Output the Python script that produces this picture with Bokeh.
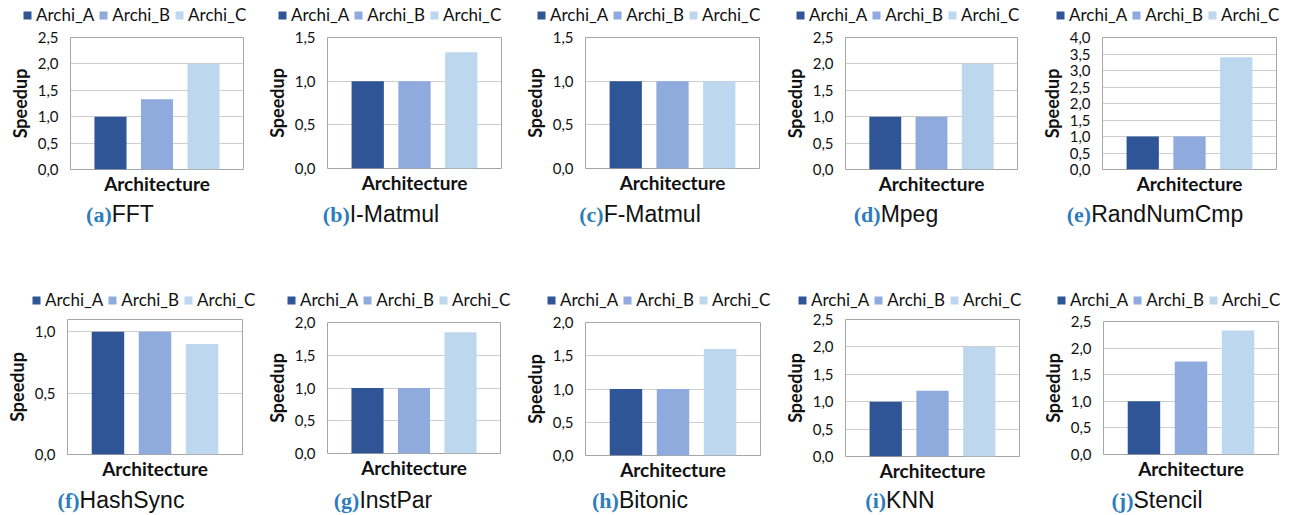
from bokeh.plotting import figure
from bokeh.layouts import column, row
from bokeh.models import (Range1d, FixedTicker, Legend, LegendItem, Div,
                          ColumnDataSource)
from bokeh.embed import file_html
from bokeh.resources import INLINE

# ---- data -------------------------------------------------------------
archs = ["Archi_A", "Archi_B", "Archi_C"]
benchmarks = ["FFT", "I-Matmul", "F-Matmul", "Mpeg", "RandNumCmp",
              "HashSync", "InstPar", "Bitonic", "KNN", "Stencil"]
tags = ["(a)", "(b)", "(c)", "(d)", "(e)", "(f)", "(g)", "(h)", "(i)", "(j)"]
speedup_a = [1.0, 1.0, 1.0, 1.0, 1.0, 1.0, 1.0, 1.0, 1.0, 1.0]
speedup_b = [1.33, 1.0, 1.0, 1.0, 1.0, 1.0, 1.0, 1.0, 1.2, 1.75]
speedup_c = [2.0, 1.33, 1.0, 2.0, 3.4, 0.9, 1.85, 1.6, 2.0, 2.33]
y_max = [2.5, 1.5, 1.5, 2.5, 4.0, 1.1, 2.0, 2.0, 2.5, 2.5]
y_tick_max = [2.5, 1.5, 1.5, 2.5, 4.0, 1.0, 2.0, 2.0, 2.5, 2.5]

# ---- styling ----------------------------------------------------------
colors = ["#2f5597", "#8faadc", "#bdd7ee"]
TICK_FONT = "Lato"
CAPTION_FONT = "Liberation Sans"
TAG_FONT = "Liberation Serif"
TAG_COLOR = "#2e7dbb"
LEGEND_H = 18
FRAME_PAD = 8

# per-panel cell geometry: (cell width, chart height, caption height,
#   frame left, frame right, frame top, frame bottom,
#   legend left, legend top, caption centre x)
cells = [
    (260, 200, 58, 70, 243, 37, 169, 22, 7, 120),
    (260, 200, 58, 67, 241, 37, 168, 17, 7, 121),
    (260, 200, 58, 63, 239, 37, 168, 16, 7, 120),
    (250, 200, 58, 63, 237, 37, 169, 15, 7, 116),
    (261, 200, 58, 72, 246, 37, 169, 25, 7, 125),
    (260, 227, 30, 67, 242, 61, 196, 31, 34, 121),
    (260, 227, 30, 67, 240, 64, 195, 26, 34, 123),
    (260, 227, 30, 65, 240, 64, 197, 26, 34, 120),
    (250, 227, 30, 63, 239, 61, 198, 17, 34, 120),
    (261, 227, 30, 73, 248, 63, 196, 26, 34, 127),
]


def fmt(v):
    return f"{v:.1f}".replace(".", ",")


def make_legend_strip(cw, h, lx, ly, src):
    """A thin plot holding only the horizontal legend for one panel.
    The bars are bound here too, but its ranges keep them out of view."""
    s = figure(width=cw, height=h, output_backend="svg", toolbar_location=None,
               title=None, x_axis_type=None, y_axis_type=None,
               x_range=Range1d(10, 11), y_range=Range1d(10, 11),
               min_border_left=0, min_border_right=0,
               min_border_top=0, min_border_bottom=0, frame_align=False)
    s.outline_line_color = None
    s.xgrid.grid_line_color = None
    s.ygrid.grid_line_color = None
    s.border_fill_color = "white"
    s.background_fill_color = "white"
    key = s.vbar(x="x", top="top", width=0.69, bottom=0, color="color",
                 line_color=None, source=src)
    legend = Legend(
        items=[LegendItem(label=archs[k], renderers=[key], index=k) for k in range(3)],
        location=(lx, h - ly - LEGEND_H), orientation="horizontal",
        glyph_width=10, glyph_height=10, label_standoff=4, spacing=4,
        padding=0, margin=0, border_line_color=None, background_fill_alpha=0,
        label_text_font=TICK_FONT, label_text_font_size="17px",
        label_text_color="#111111", label_height=LEGEND_H)
    s.add_layout(legend)
    return s


def make_panel(i):
    cw, fh, capH, fl, fr, ft, fb, lx, ly, cx = cells[i]
    strip_h = ft - FRAME_PAD
    ph = fh - strip_h
    p = figure(width=cw, height=ph, output_backend="svg", toolbar_location=None,
               title=None, x_range=Range1d(0.14, 3.86),
               y_range=Range1d(0, y_max[i]),
               min_border_left=fl, min_border_right=cw - fr,
               min_border_top=FRAME_PAD, min_border_bottom=fh - fb,
               frame_align=False)
    p.background_fill_color = "white"
    p.border_fill_color = "white"
    p.outline_line_color = "#a6a6a6"
    p.outline_line_width = 1

    vals = [speedup_a[i], speedup_b[i], speedup_c[i]]
    src = ColumnDataSource(dict(x=[1, 2, 3], top=vals, color=colors, arch=archs))
    p.vbar(x="x", top="top", width=0.69, bottom=0, color="color",
           line_color=None, source=src)

    # y axis with comma decimals
    n = int(round(y_tick_max[i] / 0.5))
    ticks = [k * 0.5 for k in range(n + 1)]
    p.yaxis.ticker = FixedTicker(ticks=ticks)
    p.yaxis.major_label_overrides = {t: fmt(t) for t in ticks}
    p.yaxis.axis_line_color = None
    p.yaxis.major_tick_line_color = None
    p.yaxis.minor_tick_line_color = None
    p.yaxis.major_label_standoff = 6
    p.yaxis.major_label_text_font = TICK_FONT
    p.yaxis.major_label_text_font_size = "15px"
    p.yaxis.major_label_text_color = "#111111"
    p.yaxis.axis_label = "Speedup"
    p.yaxis.axis_label_text_font = TICK_FONT
    p.yaxis.axis_label_text_font_style = "bold"
    p.yaxis.axis_label_text_font_size = "18px"
    p.yaxis.axis_label_text_color = "#111111"
    p.yaxis.axis_label_standoff = 4

    p.xaxis.ticker = FixedTicker(ticks=[])
    p.xaxis.axis_line_color = None
    p.xaxis.major_tick_line_color = None
    p.xaxis.minor_tick_line_color = None
    p.xaxis.axis_label = "Architecture"
    p.xaxis.axis_label_text_font = TICK_FONT
    p.xaxis.axis_label_text_font_style = "bold"
    p.xaxis.axis_label_text_font_size = "19px"
    p.xaxis.axis_label_text_color = "#111111"
    p.xaxis.axis_label_standoff = 2

    p.xgrid.grid_line_color = None
    p.ygrid.ticker = FixedTicker(ticks=ticks)
    p.ygrid.grid_line_color = "#cfcfcf"
    p.ygrid.grid_line_width = 1

    strip = make_legend_strip(cw, strip_h, lx, ly, src)

    caption = Div(
        text=(f'<span style="font-family:\'{TAG_FONT}\',serif;font-weight:bold;'
              f'color:{TAG_COLOR};font-size:22px">{tags[i]}</span>'
              f'<span style="font-family:\'{CAPTION_FONT}\',sans-serif;font-size:23px;'
              f'color:#111111">{benchmarks[i]}</span>'),
        width=2 * cx, height=capH, margin=(0, 0, 0, 0),
        styles={"text-align": "center", "line-height": "28px" if capH > 40 else "30px",
                "white-space": "nowrap"})
    return column(strip, p, caption, spacing=0, width=cw)


panels = [make_panel(i) for i in range(10)]
layout = column(row(*panels[:5], spacing=0), row(*panels[5:], spacing=0), spacing=0)

open("out.html", "w").write(file_html(layout, INLINE))
